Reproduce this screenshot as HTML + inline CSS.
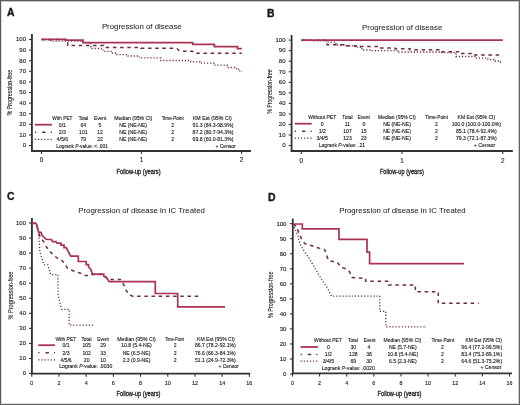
<!DOCTYPE html>
<html><head><meta charset="utf-8"><title>Progression of disease</title>
<style>
html,body{margin:0;padding:0;background:#fff;}
body{width:520px;height:405px;overflow:hidden;}
svg{display:block;will-change:transform;}
text{font-family:"Liberation Sans", sans-serif;fill:#1a1a1a;stroke:#1a1a1a;stroke-width:0.12px;}
.sol{fill:none;stroke:#aa3352;stroke-width:1.7;stroke-linejoin:miter;}
.dash{fill:none;stroke:#6e2a42;stroke-width:1.5;stroke-dasharray:3.5 3.7;}
.dot{fill:none;stroke:#6e2a42;stroke-width:1.3;stroke-dasharray:1.2 1.9;}
</style></head><body>
<svg width="520" height="405" viewBox="0 0 520 405">
<rect x="0" y="0" width="520" height="405" fill="#fff"/>
<text x="6.90" y="15.60" font-size="10.4" fill="#111" font-weight="bold" style="stroke:#111;stroke-width:0.35px">A</text>
<text x="101.90" y="29.20" font-size="7.9" fill="#222" textLength="79.80" lengthAdjust="spacingAndGlyphs" style="stroke-width:0.04px;fill:#262626;stroke:#262626">Progression of disease</text>
<line x1="31.90" y1="34.00" x2="31.90" y2="151.70" stroke="#333" stroke-width="1.9" />
<line x1="29.00" y1="145.50" x2="31.90" y2="145.50" stroke="#333" stroke-width="1.1" />
<text x="26.00" y="147.30" font-size="6.0" text-anchor="end">0</text>
<line x1="29.00" y1="134.90" x2="31.90" y2="134.90" stroke="#333" stroke-width="1.1" />
<text x="26.00" y="136.70" font-size="6.0" text-anchor="end">10</text>
<line x1="29.00" y1="124.30" x2="31.90" y2="124.30" stroke="#333" stroke-width="1.1" />
<text x="26.00" y="126.10" font-size="6.0" text-anchor="end">20</text>
<line x1="29.00" y1="113.70" x2="31.90" y2="113.70" stroke="#333" stroke-width="1.1" />
<text x="26.00" y="115.50" font-size="6.0" text-anchor="end">30</text>
<line x1="29.00" y1="103.10" x2="31.90" y2="103.10" stroke="#333" stroke-width="1.1" />
<text x="26.00" y="104.90" font-size="6.0" text-anchor="end">40</text>
<line x1="29.00" y1="92.50" x2="31.90" y2="92.50" stroke="#333" stroke-width="1.1" />
<text x="26.00" y="94.30" font-size="6.0" text-anchor="end">50</text>
<line x1="29.00" y1="81.90" x2="31.90" y2="81.90" stroke="#333" stroke-width="1.1" />
<text x="26.00" y="83.70" font-size="6.0" text-anchor="end">60</text>
<line x1="29.00" y1="71.30" x2="31.90" y2="71.30" stroke="#333" stroke-width="1.1" />
<text x="26.00" y="73.10" font-size="6.0" text-anchor="end">70</text>
<line x1="29.00" y1="60.70" x2="31.90" y2="60.70" stroke="#333" stroke-width="1.1" />
<text x="26.00" y="62.50" font-size="6.0" text-anchor="end">80</text>
<line x1="29.00" y1="50.10" x2="31.90" y2="50.10" stroke="#333" stroke-width="1.1" />
<text x="26.00" y="51.90" font-size="6.0" text-anchor="end">90</text>
<line x1="29.00" y1="39.50" x2="31.90" y2="39.50" stroke="#333" stroke-width="1.1" />
<text x="26.00" y="41.30" font-size="6.0" text-anchor="end">100</text>
<line x1="31.00" y1="150.90" x2="251.00" y2="150.90" stroke="#333" stroke-width="2.0" />
<line x1="41.50" y1="150.90" x2="41.50" y2="154.00" stroke="#333" stroke-width="1.1" />
<text x="41.50" y="162.40" font-size="6.4" text-anchor="middle">0</text>
<line x1="141.50" y1="150.90" x2="141.50" y2="154.00" stroke="#333" stroke-width="1.1" />
<text x="141.50" y="162.40" font-size="6.4" text-anchor="middle">1</text>
<line x1="241.60" y1="150.90" x2="241.60" y2="154.00" stroke="#333" stroke-width="1.1" />
<text x="241.60" y="162.40" font-size="6.4" text-anchor="middle">2</text>
<text transform="translate(12.40,92.60) rotate(-90)" x="0" y="0" font-size="7.0" text-anchor="middle" textLength="45.80" lengthAdjust="spacingAndGlyphs" fill="#222" style="stroke:#222;stroke-width:0.12px">% Progression-free</text>
<text x="116.60" y="173.60" font-size="7.3" fill="#222" textLength="44.00" lengthAdjust="spacingAndGlyphs" style="stroke:#222;stroke-width:0.3px">Follow-up (years)</text>
<polyline class="dot" points="41.50,39.60 50.50,39.60 50.50,41.10 83.00,41.10 83.00,42.90 90.80,42.90 90.80,48.50 103.00,48.50 103.00,51.30 112.30,51.30 112.30,53.00 116.80,53.00 116.80,54.60 128.00,54.60 128.00,56.00 139.40,56.00 139.40,57.80 160.80,57.80 160.80,60.50 190.70,60.50 190.70,61.90 200.00,61.90 200.00,63.20 214.20,63.20 214.20,65.20 227.20,65.20 227.20,67.50 236.50,67.50 236.50,68.60 238.60,68.60 238.60,71.20 242.70,71.20"/>
<polyline class="dash" points="41.50,39.60 67.70,39.60 67.70,45.60 103.60,45.60 103.60,47.40 141.00,47.40 141.00,48.30 176.50,48.30 178.00,49.50 180.00,51.20 192.50,51.20 194.00,53.30 241.80,53.30"/>
<polyline class="sol" points="41.50,39.40 65.50,39.40 65.50,40.20 83.00,40.20 83.00,42.60 192.70,42.60 192.70,44.40 214.30,44.40 214.30,46.60 237.50,46.60 237.50,48.70 241.80,48.70"/>
<text x="52.30" y="119.90" font-size="5.1" textLength="20.20" lengthAdjust="spacingAndGlyphs">With PET</text>
<text x="78.70" y="119.90" font-size="5.1" textLength="9.60" lengthAdjust="spacingAndGlyphs">Total</text>
<text x="94.00" y="119.90" font-size="5.1" textLength="12.30" lengthAdjust="spacingAndGlyphs">Event</text>
<text x="114.20" y="119.90" font-size="5.1" textLength="38.10" lengthAdjust="spacingAndGlyphs">Median (95% CI)</text>
<text x="161.70" y="119.90" font-size="5.1" textLength="22.00" lengthAdjust="spacingAndGlyphs">Time-Point</text>
<text x="192.90" y="119.90" font-size="5.1" textLength="38.90" lengthAdjust="spacingAndGlyphs">KM Est (95% CI)</text>
<line x1="35.00" y1="124.70" x2="51.90" y2="124.70" stroke="#aa3352" stroke-width="1.8" />
<polyline class="dash" points="35.00,132.20 51.90,132.20" style="stroke-dasharray:1.2 6.0 3.4 5.1 1.2 20"/>
<polyline class="dot" points="35.00,139.30 51.90,139.30"/>
<text x="62.40" y="126.50" font-size="5.1" text-anchor="middle">0/1</text>
<text x="83.30" y="126.50" font-size="5.1" text-anchor="middle">64</text>
<text x="100.00" y="126.50" font-size="5.1" text-anchor="middle">5</text>
<text x="133.20" y="126.50" font-size="5.1" text-anchor="middle">NE (NE-NE)</text>
<text x="172.60" y="126.50" font-size="5.1" text-anchor="middle">2</text>
<text x="213.00" y="126.50" font-size="5.1" text-anchor="middle">91.3 (84.3-98.9%)</text>
<text x="62.40" y="134.00" font-size="5.1" text-anchor="middle">2/3</text>
<text x="83.30" y="134.00" font-size="5.1" text-anchor="middle">101</text>
<text x="100.00" y="134.00" font-size="5.1" text-anchor="middle">12</text>
<text x="133.20" y="134.00" font-size="5.1" text-anchor="middle">NE (NE-NE)</text>
<text x="172.60" y="134.00" font-size="5.1" text-anchor="middle">2</text>
<text x="213.00" y="134.00" font-size="5.1" text-anchor="middle">87.2 (80.7-94.3%)</text>
<text x="62.40" y="141.10" font-size="5.1" text-anchor="middle">4/5/6</text>
<text x="83.30" y="141.10" font-size="5.1" text-anchor="middle">79</text>
<text x="100.00" y="141.10" font-size="5.1" text-anchor="middle">22</text>
<text x="133.20" y="141.10" font-size="5.1" text-anchor="middle">NE (NE-NE)</text>
<text x="172.60" y="141.10" font-size="5.1" text-anchor="middle">2</text>
<text x="213.00" y="141.10" font-size="5.1" text-anchor="middle">69.8 (60.0-81.3%)</text>
<text x="56.30" y="147.80" font-size="5.1" textLength="51.60" lengthAdjust="spacingAndGlyphs">Logrank <tspan font-style="italic">P</tspan>-value: &lt; .001</text>
<text x="215.40" y="147.60" font-size="5.1" textLength="20.20" lengthAdjust="spacingAndGlyphs">+ Censor</text>
<text x="266.90" y="16.70" font-size="10.4" fill="#111" font-weight="bold" style="stroke:#111;stroke-width:0.35px">B</text>
<text x="362.10" y="29.80" font-size="7.9" fill="#222" textLength="80.20" lengthAdjust="spacingAndGlyphs" style="stroke-width:0.04px;fill:#262626;stroke:#262626">Progression of disease</text>
<line x1="291.60" y1="35.00" x2="291.60" y2="151.70" stroke="#333" stroke-width="1.8" />
<line x1="288.70" y1="145.60" x2="291.60" y2="145.60" stroke="#333" stroke-width="1.1" />
<text x="285.50" y="147.40" font-size="6.0" text-anchor="end">0</text>
<line x1="288.70" y1="135.05" x2="291.60" y2="135.05" stroke="#333" stroke-width="1.1" />
<text x="285.50" y="136.85" font-size="6.0" text-anchor="end">10</text>
<line x1="288.70" y1="124.50" x2="291.60" y2="124.50" stroke="#333" stroke-width="1.1" />
<text x="285.50" y="126.30" font-size="6.0" text-anchor="end">20</text>
<line x1="288.70" y1="113.95" x2="291.60" y2="113.95" stroke="#333" stroke-width="1.1" />
<text x="285.50" y="115.75" font-size="6.0" text-anchor="end">30</text>
<line x1="288.70" y1="103.40" x2="291.60" y2="103.40" stroke="#333" stroke-width="1.1" />
<text x="285.50" y="105.20" font-size="6.0" text-anchor="end">40</text>
<line x1="288.70" y1="92.85" x2="291.60" y2="92.85" stroke="#333" stroke-width="1.1" />
<text x="285.50" y="94.65" font-size="6.0" text-anchor="end">50</text>
<line x1="288.70" y1="82.30" x2="291.60" y2="82.30" stroke="#333" stroke-width="1.1" />
<text x="285.50" y="84.10" font-size="6.0" text-anchor="end">60</text>
<line x1="288.70" y1="71.75" x2="291.60" y2="71.75" stroke="#333" stroke-width="1.1" />
<text x="285.50" y="73.55" font-size="6.0" text-anchor="end">70</text>
<line x1="288.70" y1="61.20" x2="291.60" y2="61.20" stroke="#333" stroke-width="1.1" />
<text x="285.50" y="63.00" font-size="6.0" text-anchor="end">80</text>
<line x1="288.70" y1="50.65" x2="291.60" y2="50.65" stroke="#333" stroke-width="1.1" />
<text x="285.50" y="52.45" font-size="6.0" text-anchor="end">90</text>
<line x1="288.70" y1="40.10" x2="291.60" y2="40.10" stroke="#333" stroke-width="1.1" />
<text x="285.50" y="41.90" font-size="6.0" text-anchor="end">100</text>
<line x1="290.70" y1="150.90" x2="512.80" y2="150.90" stroke="#333" stroke-width="2.0" />
<line x1="301.30" y1="150.90" x2="301.30" y2="154.00" stroke="#333" stroke-width="1.1" />
<text x="301.30" y="162.60" font-size="6.4" text-anchor="middle">0</text>
<line x1="402.00" y1="150.90" x2="402.00" y2="154.00" stroke="#333" stroke-width="1.1" />
<text x="402.00" y="162.60" font-size="6.4" text-anchor="middle">1</text>
<line x1="502.70" y1="150.90" x2="502.70" y2="154.00" stroke="#333" stroke-width="1.1" />
<text x="502.70" y="162.60" font-size="6.4" text-anchor="middle">2</text>
<text transform="translate(272.10,91.60) rotate(-90)" x="0" y="0" font-size="7.0" text-anchor="middle" textLength="44.20" lengthAdjust="spacingAndGlyphs" fill="#222" style="stroke:#222;stroke-width:0.12px">% Progression-free</text>
<text x="379.90" y="173.90" font-size="7.3" fill="#222" textLength="44.00" lengthAdjust="spacingAndGlyphs" style="stroke:#222;stroke-width:0.3px">Follow-up (years)</text>
<polyline class="dot" points="301.50,40.30 312.50,40.30 312.50,40.80 326.00,40.80 326.00,42.20 336.00,42.20 336.00,45.00 345.00,45.00 345.00,45.90 355.00,45.90 355.00,47.20 362.00,47.20 362.00,50.00 372.00,50.00 372.00,50.70 398.00,50.70 398.00,52.00 440.00,52.00 440.00,52.60 456.00,52.60 456.00,56.50 475.00,56.50 475.00,58.20 488.00,58.20 488.00,59.50 495.00,59.50 495.00,61.00 499.00,61.00 499.00,62.00 502.80,62.00"/>
<polyline class="dash" points="301.50,40.30 327.00,40.30 327.00,44.80 344.00,44.80 344.00,45.80 356.00,45.80 356.00,46.60 380.00,46.60 380.00,48.10 395.00,48.10 395.00,48.80 410.00,48.80 410.00,49.80 440.00,49.80 440.00,51.70 460.00,51.70 460.00,53.60 475.00,53.60 475.00,55.00 502.80,55.00"/>
<polyline class="sol" points="301.50,40.10 502.80,40.10"/>
<text x="308.30" y="119.00" font-size="5.1" textLength="27.90" lengthAdjust="spacingAndGlyphs">Without PET</text>
<text x="342.30" y="119.00" font-size="5.1" textLength="10.20" lengthAdjust="spacingAndGlyphs">Total</text>
<text x="357.70" y="119.00" font-size="5.1" textLength="12.10" lengthAdjust="spacingAndGlyphs">Event</text>
<text x="378.10" y="119.00" font-size="5.1" textLength="37.70" lengthAdjust="spacingAndGlyphs">Median (95% CI)</text>
<text x="425.20" y="119.00" font-size="5.1" textLength="22.90" lengthAdjust="spacingAndGlyphs">Time-Point</text>
<text x="457.50" y="119.00" font-size="5.1" textLength="37.70" lengthAdjust="spacingAndGlyphs">KM Est (95% CI)</text>
<line x1="294.80" y1="123.70" x2="311.70" y2="123.70" stroke="#aa3352" stroke-width="1.8" />
<polyline class="dash" points="294.80,131.20 311.70,131.20" style="stroke-dasharray:1.2 6.0 3.4 5.1 1.2 20"/>
<polyline class="dot" points="294.80,138.20 311.70,138.20"/>
<text x="322.20" y="125.50" font-size="5.1" text-anchor="middle">0</text>
<text x="347.50" y="125.50" font-size="5.1" text-anchor="middle">11</text>
<text x="363.80" y="125.50" font-size="5.1" text-anchor="middle">0</text>
<text x="397.00" y="125.50" font-size="5.1" text-anchor="middle">NE (NE-NE)</text>
<text x="436.40" y="125.50" font-size="5.1" text-anchor="middle">2</text>
<text x="476.30" y="125.50" font-size="5.1" text-anchor="middle">100.0 (100.0-100.0%)</text>
<text x="322.20" y="133.00" font-size="5.1" text-anchor="middle">1/2</text>
<text x="347.50" y="133.00" font-size="5.1" text-anchor="middle">107</text>
<text x="363.80" y="133.00" font-size="5.1" text-anchor="middle">15</text>
<text x="397.00" y="133.00" font-size="5.1" text-anchor="middle">NE (NE-NE)</text>
<text x="436.40" y="133.00" font-size="5.1" text-anchor="middle">2</text>
<text x="476.30" y="133.00" font-size="5.1" text-anchor="middle">85.1 (78.4-92.4%)</text>
<text x="322.20" y="140.00" font-size="5.1" text-anchor="middle">3/4/5</text>
<text x="347.50" y="140.00" font-size="5.1" text-anchor="middle">123</text>
<text x="363.80" y="140.00" font-size="5.1" text-anchor="middle">23</text>
<text x="397.00" y="140.00" font-size="5.1" text-anchor="middle">NE (NE-NE)</text>
<text x="436.40" y="140.00" font-size="5.1" text-anchor="middle">2</text>
<text x="476.30" y="140.00" font-size="5.1" text-anchor="middle">79.3 (72.1-87.3%)</text>
<text x="318.80" y="147.00" font-size="5.1" textLength="46.20" lengthAdjust="spacingAndGlyphs">Logrank <tspan font-style="italic">P</tspan>-value: .21</text>
<text x="473.70" y="146.80" font-size="5.1" textLength="21.50" lengthAdjust="spacingAndGlyphs">+ Censor</text>
<text x="6.90" y="200.40" font-size="10.4" fill="#111" font-weight="bold" style="stroke:#111;stroke-width:0.35px">C</text>
<text x="78.20" y="212.80" font-size="8.0" fill="#222" textLength="126.80" lengthAdjust="spacingAndGlyphs" style="stroke-width:0.04px;fill:#262626;stroke:#262626">Progression of disease in IC Treated</text>
<line x1="31.90" y1="218.00" x2="31.90" y2="374.30" stroke="#333" stroke-width="1.9" />
<line x1="29.00" y1="373.50" x2="31.90" y2="373.50" stroke="#333" stroke-width="1.1" />
<text x="26.00" y="375.30" font-size="6.0" text-anchor="end">0</text>
<line x1="29.00" y1="358.45" x2="31.90" y2="358.45" stroke="#333" stroke-width="1.1" />
<text x="26.00" y="360.25" font-size="6.0" text-anchor="end">10</text>
<line x1="29.00" y1="343.40" x2="31.90" y2="343.40" stroke="#333" stroke-width="1.1" />
<text x="26.00" y="345.20" font-size="6.0" text-anchor="end">20</text>
<line x1="29.00" y1="328.35" x2="31.90" y2="328.35" stroke="#333" stroke-width="1.1" />
<text x="26.00" y="330.15" font-size="6.0" text-anchor="end">30</text>
<line x1="29.00" y1="313.30" x2="31.90" y2="313.30" stroke="#333" stroke-width="1.1" />
<text x="26.00" y="315.10" font-size="6.0" text-anchor="end">40</text>
<line x1="29.00" y1="298.25" x2="31.90" y2="298.25" stroke="#333" stroke-width="1.1" />
<text x="26.00" y="300.05" font-size="6.0" text-anchor="end">50</text>
<line x1="29.00" y1="283.20" x2="31.90" y2="283.20" stroke="#333" stroke-width="1.1" />
<text x="26.00" y="285.00" font-size="6.0" text-anchor="end">60</text>
<line x1="29.00" y1="268.15" x2="31.90" y2="268.15" stroke="#333" stroke-width="1.1" />
<text x="26.00" y="269.95" font-size="6.0" text-anchor="end">70</text>
<line x1="29.00" y1="253.10" x2="31.90" y2="253.10" stroke="#333" stroke-width="1.1" />
<text x="26.00" y="254.90" font-size="6.0" text-anchor="end">80</text>
<line x1="29.00" y1="238.05" x2="31.90" y2="238.05" stroke="#333" stroke-width="1.1" />
<text x="26.00" y="239.85" font-size="6.0" text-anchor="end">90</text>
<line x1="29.00" y1="223.00" x2="31.90" y2="223.00" stroke="#333" stroke-width="1.1" />
<text x="26.00" y="224.80" font-size="6.0" text-anchor="end">100</text>
<line x1="31.00" y1="373.55" x2="250.30" y2="373.55" stroke="#333" stroke-width="1.8" />
<line x1="31.75" y1="373.55" x2="31.75" y2="376.65" stroke="#333" stroke-width="1.1" />
<text x="31.75" y="384.60" font-size="5.4" text-anchor="middle">0</text>
<line x1="58.95" y1="373.55" x2="58.95" y2="376.65" stroke="#333" stroke-width="1.1" />
<text x="58.95" y="384.60" font-size="5.4" text-anchor="middle">2</text>
<line x1="86.15" y1="373.55" x2="86.15" y2="376.65" stroke="#333" stroke-width="1.1" />
<text x="86.15" y="384.60" font-size="5.4" text-anchor="middle">4</text>
<line x1="113.35" y1="373.55" x2="113.35" y2="376.65" stroke="#333" stroke-width="1.1" />
<text x="113.35" y="384.60" font-size="5.4" text-anchor="middle">6</text>
<line x1="140.55" y1="373.55" x2="140.55" y2="376.65" stroke="#333" stroke-width="1.1" />
<text x="140.55" y="384.60" font-size="5.4" text-anchor="middle">8</text>
<line x1="167.75" y1="373.55" x2="167.75" y2="376.65" stroke="#333" stroke-width="1.1" />
<text x="167.75" y="384.60" font-size="5.4" text-anchor="middle">10</text>
<line x1="194.95" y1="373.55" x2="194.95" y2="376.65" stroke="#333" stroke-width="1.1" />
<text x="194.95" y="384.60" font-size="5.4" text-anchor="middle">12</text>
<line x1="222.15" y1="373.55" x2="222.15" y2="376.65" stroke="#333" stroke-width="1.1" />
<text x="222.15" y="384.60" font-size="5.4" text-anchor="middle">14</text>
<line x1="249.35" y1="373.55" x2="249.35" y2="376.65" stroke="#333" stroke-width="1.1" />
<text x="249.35" y="384.60" font-size="5.4" text-anchor="middle">16</text>
<text transform="translate(12.70,295.60) rotate(-90)" x="0" y="0" font-size="7.0" text-anchor="middle" textLength="48.00" lengthAdjust="spacingAndGlyphs" fill="#222" style="stroke:#222;stroke-width:0.12px">% Progression-free</text>
<text x="116.50" y="396.00" font-size="7.3" fill="#222" textLength="44.00" lengthAdjust="spacingAndGlyphs" style="stroke:#222;stroke-width:0.3px">Follow-up (years)</text>
<polyline class="dot" points="31.75,223.40 35.60,223.40 37.00,226.00 38.40,232.00 38.90,237.00 39.90,252.00 43.90,264.80 47.80,264.80 50.80,274.70 57.90,274.70 58.10,295.50 61.70,309.30 69.20,309.30 69.20,325.10 93.30,325.10"/>
<polyline class="dash" points="31.75,223.40 35.60,223.40 37.00,226.00 38.50,232.50 40.40,237.60 43.70,241.60 45.90,246.10 49.10,250.70 52.80,254.40 56.50,257.50 59.00,259.50 62.10,260.60 65.00,263.80 67.70,268.50 73.00,270.80 80.00,273.00 85.00,275.60 91.00,275.60 92.30,274.60 104.00,274.60 106.00,277.00 107.50,279.40 120.50,279.40 123.90,284.90 125.80,289.90 128.70,294.20 132.60,296.30 199.70,296.30"/>
<polyline class="sol" points="31.75,223.20 35.60,223.20 37.00,225.00 37.80,229.10 38.50,231.70 39.30,232.40 41.10,232.40 41.90,235.00 44.10,237.30 45.90,239.10 47.40,239.50 51.50,239.50 52.60,241.60 55.90,241.60 57.00,243.20 60.90,243.20 60.90,245.20 64.00,245.20 64.00,247.60 66.20,247.70 68.50,252.00 70.80,256.20 78.30,256.20 78.30,261.50 86.20,261.50 86.20,264.60 88.50,264.60 88.50,267.00 90.80,269.20 92.30,274.20 103.80,274.20 103.80,276.00 106.20,277.70 107.50,279.00 109.20,281.70 155.30,281.70 155.30,293.50 177.70,293.50 177.70,306.90 225.00,306.90"/>
<text x="55.40" y="340.50" font-size="5.1" textLength="20.80" lengthAdjust="spacingAndGlyphs">With PET</text>
<text x="81.50" y="340.50" font-size="5.1" textLength="10.00" lengthAdjust="spacingAndGlyphs">Total</text>
<text x="97.30" y="340.50" font-size="5.1" textLength="11.50" lengthAdjust="spacingAndGlyphs">Event</text>
<text x="117.30" y="340.50" font-size="5.1" textLength="38.50" lengthAdjust="spacingAndGlyphs">Median (95% CI)</text>
<text x="165.20" y="340.50" font-size="5.1" textLength="18.80" lengthAdjust="spacingAndGlyphs">Time-Point</text>
<text x="197.10" y="340.50" font-size="5.1" textLength="37.70" lengthAdjust="spacingAndGlyphs">KM Est (95% CI)</text>
<line x1="38.30" y1="345.20" x2="55.00" y2="345.20" stroke="#aa3352" stroke-width="1.8" />
<polyline class="dash" points="38.30,352.70 55.00,352.70" style="stroke-dasharray:1.2 6.0 3.4 5.1 1.2 20"/>
<polyline class="dot" points="38.30,359.80 55.00,359.80"/>
<text x="66.00" y="347.00" font-size="5.1" text-anchor="middle">0/1</text>
<text x="86.70" y="347.00" font-size="5.1" text-anchor="middle">105</text>
<text x="103.00" y="347.00" font-size="5.1" text-anchor="middle">29</text>
<text x="136.50" y="347.00" font-size="5.1" text-anchor="middle">10.8 (5.4-NE)</text>
<text x="175.20" y="347.00" font-size="5.1" text-anchor="middle">2</text>
<text x="215.40" y="347.00" font-size="5.1" text-anchor="middle">86.7 (78.2-92.1%)</text>
<text x="66.00" y="354.50" font-size="5.1" text-anchor="middle">2/3</text>
<text x="86.70" y="354.50" font-size="5.1" text-anchor="middle">102</text>
<text x="103.00" y="354.50" font-size="5.1" text-anchor="middle">33</text>
<text x="136.50" y="354.50" font-size="5.1" text-anchor="middle">NE (6.5-NE)</text>
<text x="175.20" y="354.50" font-size="5.1" text-anchor="middle">2</text>
<text x="215.40" y="354.50" font-size="5.1" text-anchor="middle">76.6 (66.3-84.1%)</text>
<text x="66.00" y="361.60" font-size="5.1" text-anchor="middle">4/5/6</text>
<text x="86.70" y="361.60" font-size="5.1" text-anchor="middle">20</text>
<text x="103.00" y="361.60" font-size="5.1" text-anchor="middle">10</text>
<text x="136.50" y="361.60" font-size="5.1" text-anchor="middle">2.3 (0.9-NE)</text>
<text x="175.20" y="361.60" font-size="5.1" text-anchor="middle">2</text>
<text x="215.40" y="361.60" font-size="5.1" text-anchor="middle">51.1 (24.9-72.3%)</text>
<text x="59.20" y="368.30" font-size="5.1" textLength="53.10" lengthAdjust="spacingAndGlyphs">Logrank <tspan font-style="italic">P</tspan>-value: .0030</text>
<text x="218.40" y="368.40" font-size="5.1" textLength="20.20" lengthAdjust="spacingAndGlyphs">+ Censor</text>
<text x="268.00" y="200.60" font-size="10.4" fill="#111" font-weight="bold" style="stroke:#111;stroke-width:0.35px">D</text>
<text x="339.20" y="213.00" font-size="8.0" fill="#222" textLength="126.40" lengthAdjust="spacingAndGlyphs" style="stroke-width:0.04px;fill:#262626;stroke:#262626">Progression of disease in IC Treated</text>
<line x1="292.80" y1="218.60" x2="292.80" y2="374.30" stroke="#333" stroke-width="1.8" />
<line x1="289.90" y1="374.00" x2="292.80" y2="374.00" stroke="#333" stroke-width="1.1" />
<text x="286.40" y="375.80" font-size="6.0" text-anchor="end">0</text>
<line x1="289.90" y1="358.97" x2="292.80" y2="358.97" stroke="#333" stroke-width="1.1" />
<text x="286.40" y="360.77" font-size="6.0" text-anchor="end">10</text>
<line x1="289.90" y1="343.94" x2="292.80" y2="343.94" stroke="#333" stroke-width="1.1" />
<text x="286.40" y="345.74" font-size="6.0" text-anchor="end">20</text>
<line x1="289.90" y1="328.91" x2="292.80" y2="328.91" stroke="#333" stroke-width="1.1" />
<text x="286.40" y="330.71" font-size="6.0" text-anchor="end">30</text>
<line x1="289.90" y1="313.88" x2="292.80" y2="313.88" stroke="#333" stroke-width="1.1" />
<text x="286.40" y="315.68" font-size="6.0" text-anchor="end">40</text>
<line x1="289.90" y1="298.85" x2="292.80" y2="298.85" stroke="#333" stroke-width="1.1" />
<text x="286.40" y="300.65" font-size="6.0" text-anchor="end">50</text>
<line x1="289.90" y1="283.82" x2="292.80" y2="283.82" stroke="#333" stroke-width="1.1" />
<text x="286.40" y="285.62" font-size="6.0" text-anchor="end">60</text>
<line x1="289.90" y1="268.79" x2="292.80" y2="268.79" stroke="#333" stroke-width="1.1" />
<text x="286.40" y="270.59" font-size="6.0" text-anchor="end">70</text>
<line x1="289.90" y1="253.76" x2="292.80" y2="253.76" stroke="#333" stroke-width="1.1" />
<text x="286.40" y="255.56" font-size="6.0" text-anchor="end">80</text>
<line x1="289.90" y1="238.73" x2="292.80" y2="238.73" stroke="#333" stroke-width="1.1" />
<text x="286.40" y="240.53" font-size="6.0" text-anchor="end">90</text>
<line x1="289.90" y1="223.70" x2="292.80" y2="223.70" stroke="#333" stroke-width="1.1" />
<text x="286.40" y="225.50" font-size="6.0" text-anchor="end">100</text>
<line x1="291.90" y1="373.45" x2="512.00" y2="373.45" stroke="#333" stroke-width="1.8" />
<line x1="292.50" y1="373.45" x2="292.50" y2="376.55" stroke="#333" stroke-width="1.1" />
<text x="292.50" y="384.80" font-size="5.4" text-anchor="middle">0</text>
<line x1="319.62" y1="373.45" x2="319.62" y2="376.55" stroke="#333" stroke-width="1.1" />
<text x="319.62" y="384.80" font-size="5.4" text-anchor="middle">2</text>
<line x1="346.74" y1="373.45" x2="346.74" y2="376.55" stroke="#333" stroke-width="1.1" />
<text x="346.74" y="384.80" font-size="5.4" text-anchor="middle">4</text>
<line x1="373.86" y1="373.45" x2="373.86" y2="376.55" stroke="#333" stroke-width="1.1" />
<text x="373.86" y="384.80" font-size="5.4" text-anchor="middle">6</text>
<line x1="400.98" y1="373.45" x2="400.98" y2="376.55" stroke="#333" stroke-width="1.1" />
<text x="400.98" y="384.80" font-size="5.4" text-anchor="middle">8</text>
<line x1="428.10" y1="373.45" x2="428.10" y2="376.55" stroke="#333" stroke-width="1.1" />
<text x="428.10" y="384.80" font-size="5.4" text-anchor="middle">10</text>
<line x1="455.22" y1="373.45" x2="455.22" y2="376.55" stroke="#333" stroke-width="1.1" />
<text x="455.22" y="384.80" font-size="5.4" text-anchor="middle">12</text>
<line x1="482.34" y1="373.45" x2="482.34" y2="376.55" stroke="#333" stroke-width="1.1" />
<text x="482.34" y="384.80" font-size="5.4" text-anchor="middle">14</text>
<line x1="509.46" y1="373.45" x2="509.46" y2="376.55" stroke="#333" stroke-width="1.1" />
<text x="509.46" y="384.80" font-size="5.4" text-anchor="middle">16</text>
<text transform="translate(272.60,294.80) rotate(-90)" x="0" y="0" font-size="7.0" text-anchor="middle" textLength="46.60" lengthAdjust="spacingAndGlyphs" fill="#222" style="stroke:#222;stroke-width:0.12px">% Progression-free</text>
<text x="377.50" y="396.00" font-size="7.3" fill="#222" textLength="44.00" lengthAdjust="spacingAndGlyphs" style="stroke:#222;stroke-width:0.3px">Follow-up (years)</text>
<polyline class="dot" points="293.00,224.20 297.90,235.80 299.90,243.70 303.80,250.60 309.80,259.50 315.70,269.40 321.60,279.30 327.50,288.20 331.50,296.20 379.80,296.20 379.80,311.40 385.80,311.40 385.80,326.80 426.70,326.80"/>
<polyline class="dash" points="293.00,224.20 296.00,226.00 298.90,232.80 301.90,239.80 304.80,243.70 311.00,245.50 317.70,247.70 324.60,249.60 326.50,255.00 328.50,260.50 337.40,262.50 341.40,267.40 345.00,268.50 349.30,271.40 352.10,277.60 365.60,278.30 365.60,281.20 388.50,281.20 388.50,285.00 415.40,285.00 415.40,291.70 438.30,291.70 438.30,303.30 478.70,303.30"/>
<polyline class="sol" points="293.00,224.00 302.30,224.00 302.30,228.80 339.00,228.80 339.00,239.40 367.00,239.40 367.00,252.20 369.60,252.20 369.60,263.60 463.90,263.60"/>
<text x="314.00" y="341.80" font-size="5.1" textLength="27.90" lengthAdjust="spacingAndGlyphs">Without PET</text>
<text x="348.30" y="341.80" font-size="5.1" textLength="9.40" lengthAdjust="spacingAndGlyphs">Total</text>
<text x="363.70" y="341.80" font-size="5.1" textLength="11.90" lengthAdjust="spacingAndGlyphs">Event</text>
<text x="383.50" y="341.80" font-size="5.1" textLength="37.70" lengthAdjust="spacingAndGlyphs">Median (95% CI)</text>
<text x="431.40" y="341.80" font-size="5.1" textLength="22.90" lengthAdjust="spacingAndGlyphs">Time-Point</text>
<text x="465.60" y="341.80" font-size="5.1" textLength="36.30" lengthAdjust="spacingAndGlyphs">KM Est (95% CI)</text>
<line x1="300.60" y1="347.00" x2="317.90" y2="347.00" stroke="#aa3352" stroke-width="1.8" />
<polyline class="dash" points="300.60,354.50 317.90,354.50" style="stroke-dasharray:1.2 6.0 3.4 5.1 1.2 20"/>
<polyline class="dot" points="300.60,361.20 317.90,361.20"/>
<text x="328.40" y="348.80" font-size="5.1" text-anchor="middle">0</text>
<text x="353.30" y="348.80" font-size="5.1" text-anchor="middle">30</text>
<text x="369.00" y="348.80" font-size="5.1" text-anchor="middle">4</text>
<text x="402.80" y="348.80" font-size="5.1" text-anchor="middle">NE (5.7-NE)</text>
<text x="442.50" y="348.80" font-size="5.1" text-anchor="middle">2</text>
<text x="481.70" y="348.80" font-size="5.1" text-anchor="middle">96.4 (77.2-99.5%)</text>
<text x="328.40" y="356.30" font-size="5.1" text-anchor="middle">1/2</text>
<text x="353.30" y="356.30" font-size="5.1" text-anchor="middle">128</text>
<text x="369.00" y="356.30" font-size="5.1" text-anchor="middle">38</text>
<text x="402.80" y="356.30" font-size="5.1" text-anchor="middle">10.8 (5.4-NE)</text>
<text x="442.50" y="356.30" font-size="5.1" text-anchor="middle">2</text>
<text x="481.70" y="356.30" font-size="5.1" text-anchor="middle">83.4 (75.2-89.1%)</text>
<text x="328.40" y="363.00" font-size="5.1" text-anchor="middle">3/4/5</text>
<text x="353.30" y="363.00" font-size="5.1" text-anchor="middle">69</text>
<text x="369.00" y="363.00" font-size="5.1" text-anchor="middle">30</text>
<text x="402.80" y="363.00" font-size="5.1" text-anchor="middle">6.5 (2.3-NE)</text>
<text x="442.50" y="363.00" font-size="5.1" text-anchor="middle">2</text>
<text x="481.70" y="363.00" font-size="5.1" text-anchor="middle">64.6 (51.3-75.2%)</text>
<text x="321.70" y="369.70" font-size="5.1" textLength="53.10" lengthAdjust="spacingAndGlyphs">Logrank <tspan font-style="italic">P</tspan>-value: .0020</text>
<text x="480.40" y="369.40" font-size="5.1" textLength="21.00" lengthAdjust="spacingAndGlyphs">+ Censor</text>
<g shape-rendering="crispEdges">
<rect x="0" y="1" width="520" height="1" fill="#c4c4c4"/>
<rect x="1" y="0" width="1" height="405" fill="#dadada"/>
<rect x="518" y="0" width="1" height="405" fill="#d0d0d0"/>
<rect x="0" y="403" width="520" height="1" fill="#dedede"/>
<rect x="0" y="0" width="520" height="1" fill="#5a5a5a"/>
<rect x="0" y="0" width="1" height="405" fill="#5a5a5a"/>
<rect x="519" y="0" width="1" height="405" fill="#626262"/>
<rect x="0" y="404" width="520" height="1" fill="#626262"/>
</g>
</svg></body></html>
